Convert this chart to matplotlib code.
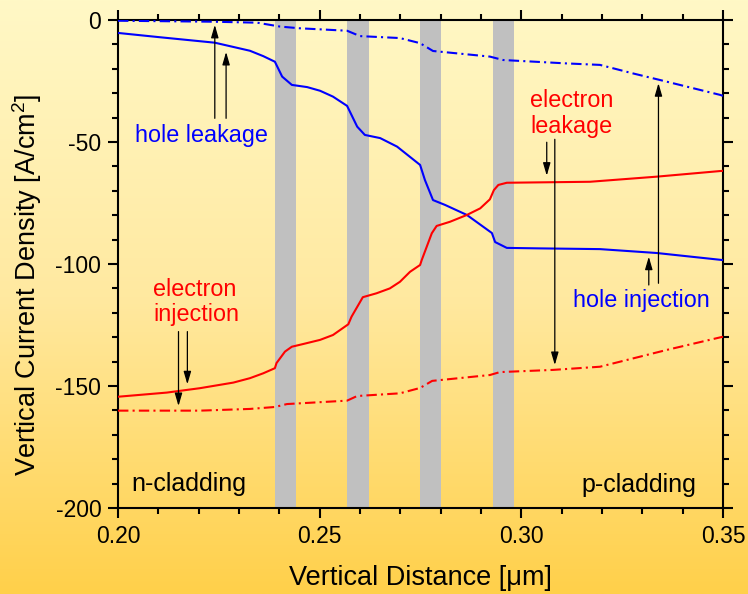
import numpy as np
import matplotlib
matplotlib.use("Agg")
import matplotlib.pyplot as plt
from matplotlib.ticker import MultipleLocator, FormatStrFormatter
from matplotlib.colors import LinearSegmentedColormap

plt.rcParams['font.family'] = ['Liberation Sans', 'DejaVu Sans']
plt.rcParams['mathtext.default'] = 'regular'
plt.rcParams['axes.unicode_minus'] = False

# ---------------- data ----------------
# blue solid (hole injection)
hole_inj_x = [0.200, 0.210, 0.224, 0.2327, 0.236, 0.2389, 0.2407, 0.2431, 0.2469, 0.2501,
              0.2533, 0.2568, 0.2593, 0.2612, 0.265, 0.2692, 0.2749, 0.2761, 0.2781, 0.2811,
              0.2865, 0.2927, 0.2935, 0.2964, 0.3046, 0.3195, 0.3336, 0.350]
hole_inj_y = [-5.3, -7.0, -9.3, -12.6, -14.8, -17.1, -23.2, -26.6, -27.5, -29.0,
              -31.4, -35.2, -43.7, -47.1, -48.4, -51.9, -59.4, -65.6, -73.8, -75.8,
              -79.9, -87.3, -91.0, -93.4, -93.6, -93.9, -95.5, -98.4]

# red solid (electron injection)
el_inj_x = [0.2000, 0.2121, 0.2203, 0.2286, 0.2327, 0.2360, 0.2389, 0.2393, 0.2414, 0.2431,
            0.2459, 0.2501, 0.2533, 0.2571, 0.2579, 0.2607, 0.2641, 0.2674, 0.2699, 0.2724,
            0.2749, 0.2753, 0.2778, 0.2790, 0.2823, 0.2865, 0.2898, 0.2922, 0.2932, 0.2943,
            0.2964, 0.3170, 0.3336, 0.3500]
el_inj_y = [-154.4, -152.7, -150.9, -148.6, -146.8, -144.8, -142.7, -140.6, -135.9, -133.9,
            -132.8, -131.1, -129.1, -124.7, -121.6, -113.6, -112.0, -110.0, -107.3, -103.2,
            -100.4, -98.4, -87.4, -84.4, -82.7, -79.9, -77.2, -73.5, -69.7, -67.6,
            -66.7, -66.3, -64.2, -61.8]

# blue dash-dot (hole leakage)
hole_leak_x = [0.2000, 0.2236, 0.2345, 0.2402, 0.2451, 0.2568, 0.2600, 0.2699, 0.2749, 0.2781,
               0.2922, 0.2955, 0.3113, 0.3195, 0.3277, 0.3344, 0.3493, 0.3500]
hole_leak_y = [-0.3, -0.7, -1.1, -2.7, -3.4, -4.4, -6.6, -7.4, -9.5, -12.7,
               -15.0, -16.4, -17.8, -18.4, -21.9, -24.6, -30.7, -31.1]

# red dash-dot (electron leakage)
el_leak_x = [0.2000, 0.2203, 0.2327, 0.2389, 0.2419, 0.2568, 0.2593, 0.2699, 0.2749, 0.2779,
             0.2922, 0.2947, 0.3079, 0.3195, 0.3361, 0.3500]
el_leak_y = [-160.1, -160.1, -159.4, -158.6, -157.4, -156.0, -154.1, -153.0, -150.8, -147.9,
             -145.5, -144.3, -143.4, -142.1, -135.2, -129.8]

# quantum wells (grey bands)
well_start = [0.2389, 0.2568, 0.2749, 0.2929]
well_end = [0.2441, 0.2622, 0.2801, 0.2982]

x_ticks = [0.20, 0.25, 0.30, 0.35]
y_ticks = [0, -50, -100, -150, -200]

# ---------------- figure ----------------
fig = plt.figure(figsize=(7.48, 5.94), dpi=100)

# gradient background
bg = fig.add_axes([0, 0, 1, 1], zorder=-10)
cmap = LinearSegmentedColormap.from_list('bg', ['#FFF8C6', '#FFE9A0', '#FFD04A'])
grad = np.linspace(0, 1, 256).reshape(-1, 1)
bg.imshow(grad, aspect='auto', cmap=cmap, extent=[0, 1, 0, 1], origin='upper')
bg.set_axis_off()

ax = fig.add_axes([118/748, 1-508/594, 605/748, 488/594])
ax.set_facecolor('none')

for s, e in zip(well_start, well_end):
    ax.axvspan(s, e, color='#C0C0C0', lw=0, zorder=1)

dd = (0, (5, 2, 1, 2))
ax.plot(hole_inj_x, hole_inj_y, color='#0000FF', lw=1.5, zorder=3)
ax.plot(el_inj_x, el_inj_y, color='#FF0000', lw=1.5, zorder=3)
ax.plot(hole_leak_x, hole_leak_y, color='#0000FF', lw=1.5, ls=dd, zorder=3)
ax.plot(el_leak_x, el_leak_y, color='#FF0000', lw=1.5, ls=dd, zorder=3)

ax.set_xlim(0.20, 0.35)
ax.set_ylim(-200, 0)
ax.set_xticks(x_ticks)
ax.set_yticks(y_ticks)
ax.xaxis.set_minor_locator(MultipleLocator(0.01))
ax.yaxis.set_minor_locator(MultipleLocator(10))
ax.xaxis.set_major_formatter(FormatStrFormatter('%.2f'))
ax.tick_params(which='both', direction='out', top=True, right=True,
               labeltop=False, labelright=False, width=1.5, colors='black')
ax.tick_params(which='major', length=7, labelsize=16.5, pad=5)
ax.tick_params(which='minor', length=4)
for sp in ax.spines.values():
    sp.set_linewidth(1.5)

ax.set_xlabel('Vertical Distance [\u03bcm]', fontsize=19.5, va='center')
ax.xaxis.set_label_coords(0.5, -0.143)
ax.set_ylabel('Vertical Current Density [A/cm$^2$]', fontsize=19.5, va='center')
ax.yaxis.set_label_coords(-0.150, 0.458)

# arrows
arrow_kw = dict(arrowstyle='-|>,head_length=0.55,head_width=0.16', color='black',
                lw=0.9, shrinkA=0, shrinkB=0, mutation_scale=14)
arrows = [
    ((0.2240, -40.3), (0.2240, -2.0)),
    ((0.2268, -40.3), (0.2268, -13.1)),
    ((0.3063, -50.1), (0.3063, -63.8)),
    ((0.3083, -48.9), (0.3083, -141.4)),
    ((0.3316, -108.6), (0.3316, -97.0)),
    ((0.3340, -107.9), (0.3340, -25.9)),
    ((0.2150, -127.7), (0.2150, -158.2)),
    ((0.2172, -127.7), (0.2172, -149.3)),
]
for (x0, y0), (x1, y1) in arrows:
    ax.annotate('', xy=(x1, y1), xytext=(x0, y0), arrowprops=arrow_kw, zorder=4)

# texts
ax.text(0.2042, -50.0, 'hole leakage', color='#0000FF', fontsize=16.8, ha='left', va='baseline')
ax.text(0.3129, -117.5, 'hole injection', color='#0000FF', fontsize=16.8, ha='left', va='baseline')
ax.text(0.3022, -38.3, 'electron\nleakage', color='#FF0000', fontsize=16.8, ha='left', va='center',
        linespacing=1.15)
ax.text(0.2087, -115.6, 'electron\ninjection', color='#FF0000', fontsize=16.8, ha='left', va='center',
        linespacing=1.15)
ax.text(0.2032, -192.9, 'n-cladding', color='black', fontsize=18, ha='left', va='baseline')
ax.text(0.3150, -193.3, 'p-cladding', color='black', fontsize=18, ha='left', va='baseline')

fig.savefig('out.png', dpi=100)
